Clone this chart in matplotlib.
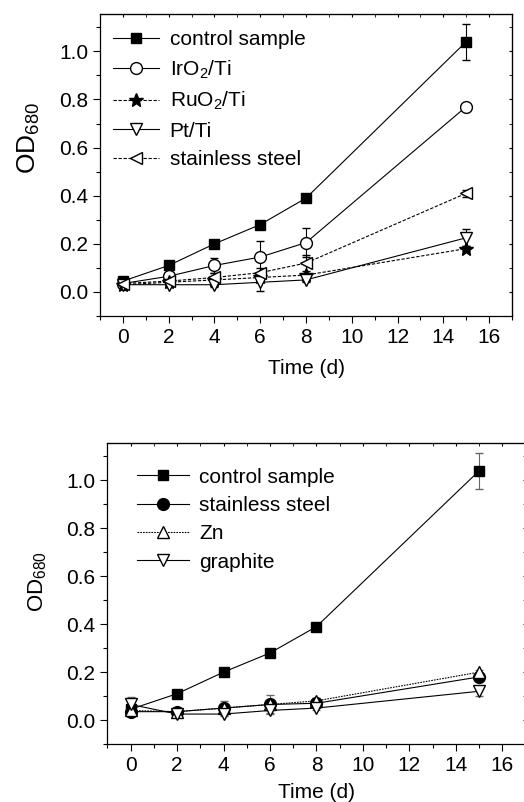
import numpy as np
import matplotlib.pyplot as plt

plt.rcParams["font.family"] = ["Liberation Sans", "DejaVu Sans"]
plt.rcParams["mathtext.fontset"] = "custom"
plt.rcParams["mathtext.rm"] = "Liberation Sans"
plt.rcParams["mathtext.it"] = "Liberation Sans"

days = [0, 2, 4, 6, 8, 15]

# top panel
control = [0.045, 0.11, 0.20, 0.28, 0.39, 1.04]
control_err = [0.01, 0.01, 0.01, 0.01, 0.012, 0.075]
iro2 = [0.035, 0.065, 0.11, 0.145, 0.205, 0.77]
iro2_err = [0.01, 0.01, 0.03, 0.065, 0.06, 0.012]
ruo2 = [0.03, 0.04, 0.05, 0.06, 0.07, 0.18]
ruo2_err = [0.01, 0.01, 0.01, 0.01, 0.01, 0.01]
pt = [0.03, 0.03, 0.03, 0.04, 0.05, 0.225]
pt_err = [0.01, 0.01, 0.01, 0.035, 0.01, 0.035]
steel_top = [0.035, 0.045, 0.06, 0.08, 0.12, 0.41]
steel_top_err = [0.01, 0.01, 0.02, 0.02, 0.035, 0.015]

# bottom panel
steel = [0.035, 0.035, 0.05, 0.065, 0.07, 0.18]
steel_err = [0.01, 0.01, 0.01, 0.01, 0.01, 0.01]
zn = [0.04, 0.035, 0.05, 0.065, 0.08, 0.20]
zn_err = [0.01, 0.01, 0.03, 0.04, 0.01, 0.01]
graphite = [0.065, 0.025, 0.025, 0.04, 0.05, 0.12]
graphite_err = [0.03, 0.01, 0.01, 0.01, 0.01, 0.02]

FS = 15


def series(ax, y, err, marker, ls, fill, label, ecolor="black", ms=7.5):
    return ax.errorbar(days, y, yerr=err, marker=marker, ls=ls, lw=0.8,
                       color="black", mfc="black" if fill else "white",
                       mec="black", ms=ms, capsize=3, elinewidth=0.8,
                       ecolor=ecolor, label=label)


def style_axes(ax):
    ax.set_xlim(-1, 17)
    ax.set_ylim(-0.1, 1.155)
    ax.set_xticks(np.arange(0, 17, 2))
    ax.set_xticks(np.arange(-1, 18, 1), minor=True)
    ax.set_yticks(np.arange(0, 1.01, 0.2))
    ax.set_yticks(np.arange(-0.1, 1.16, 0.1), minor=True)
    ax.yaxis.set_major_formatter(plt.FuncFormatter(lambda v, p: f"{v:.1f}"))
    ax.tick_params(which="both", direction="out", labelsize=FS, width=0.8)
    ax.tick_params(which="major", length=5)
    ax.tick_params(which="minor", length=3)
    # small inward ticks on the opposite spines
    top = ax.secondary_xaxis("top")
    top.set_xticks(np.arange(0, 17, 2))
    top.set_xticks(np.arange(-1, 18, 1), minor=True)
    top.tick_params(which="both", direction="in", length=2.5, labeltop=False)
    right = ax.secondary_yaxis("right")
    right.set_yticks(np.arange(0, 1.01, 0.2))
    right.set_yticks(np.arange(-0.1, 1.16, 0.1), minor=True)
    right.tick_params(which="both", direction="in", length=2.5, labelright=False)
    for s in ax.spines.values():
        s.set_linewidth(0.9)
    ax.set_xlabel("Time (d)", fontsize=FS)


def add_legend(ax, handles, anchor, hl):
    ax.legend([h[0] for h in handles], [h.get_label() for h in handles],
              loc="upper left", bbox_to_anchor=anchor, frameon=False,
              fontsize=FS, handlelength=hl, handletextpad=0.5,
              labelspacing=0.45, borderaxespad=0)


fig = plt.figure(figsize=(5.24, 8.02), dpi=100)

ax1 = fig.add_axes([0.191, 0.606, 0.786, 0.3765])
h1 = [
    series(ax1, control, control_err, "s", "-", True, "control sample"),
    series(ax1, iro2, iro2_err, "o", "-", False, "IrO$_2$/Ti", ms=8.5),
    series(ax1, ruo2, ruo2_err, "*", (0, (3, 1.5)), True, "RuO$_2$/Ti", ms=10),
    series(ax1, pt, pt_err, "v", "-", False, "Pt/Ti", ms=9),
    series(ax1, steel_top, steel_top_err, "<", (0, (3, 1.5)), False,
           "stainless steel", ms=9),
]
style_axes(ax1)
add_legend(ax1, h1, (0.012, 0.975), 2.2)
ax1.xaxis.labelpad = 9
ax1.set_ylabel("OD$_{680}$", fontsize=19)
ax1.yaxis.set_label_coords(-0.14, 0.59)

ax2 = fig.add_axes([0.205, 0.0723, 0.798, 0.375])
h2 = [
    series(ax2, control, control_err, "s", "-", True, "control sample",
           ecolor="0.4"),
    series(ax2, steel, steel_err, "o", "-", True, "stainless steel",
           ecolor="0.4", ms=8.5),
    series(ax2, zn, zn_err, "^", (0, (1.5, 1)), False, "Zn", ecolor="0.4",
           ms=9),
    series(ax2, graphite, graphite_err, "v", "-", False, "graphite",
           ecolor="0.4", ms=9),
]
style_axes(ax2)
add_legend(ax2, h2, (0.05, 0.947), 2.5)
ax2.xaxis.labelpad = 6
ax2.set_ylabel("OD$_{680}$", fontsize=16)
ax2.yaxis.set_label_coords(-0.14, 0.54)

fig.savefig("out.png", dpi=100)
